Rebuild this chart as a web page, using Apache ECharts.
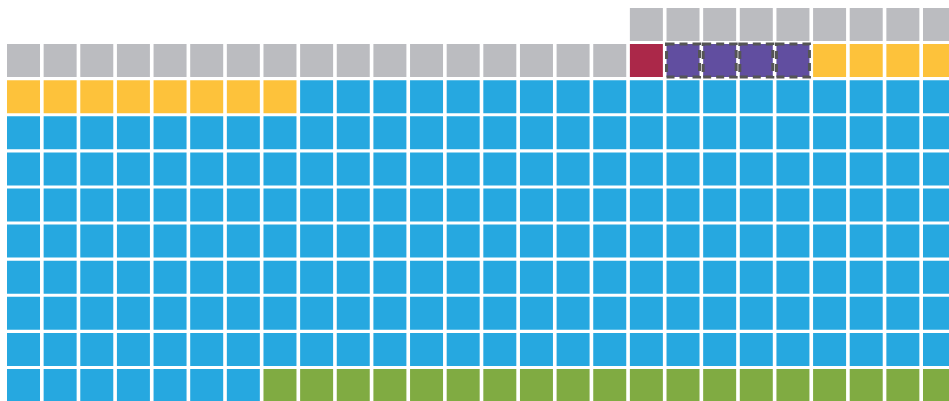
<!DOCTYPE html>
<html>
<head>
<meta charset="utf-8">
<script src="https://cdn.jsdelivr.net/npm/echarts@6/dist/echarts.min.js"></script>
<style>html,body{margin:0;padding:0;background:#fff}#c{width:949px;height:401px}</style>
</head>
<body>
<div id="c"></div>
<script>
// Waffle categories in fill order (from bottom-right, right-to-left, upward)
var categories = ['Green', 'Blue', 'Yellow', 'Purple', 'Red', 'Gray'];
var counts = [19, 207, 12, 4, 1, 26];
var colors = ['#80AB42', '#26A8E0', '#FDC23B', '#614EA0', '#AB2849', '#BBBCC0'];
var dashed = [false, false, false, true, false, false];
var columns = 26;
var rows = 11;

var cells = [];
var idx = 0;
for (var k = 0; k < categories.length; k++) {
  for (var n = 0; n < counts[k]; n++) {
    var col = columns - 1 - (idx % columns);
    var row = rows - 1 - Math.floor(idx / columns);
    cells.push([col, row, k]);
    idx++;
  }
}

var chart = echarts.init(document.getElementById('c'));
chart.setOption({
  animation: false,
  grid: { left: 23.5, right: 9.5, top: 24.5, bottom: 15.5 },
  xAxis: { type: 'value', min: 0, max: columns - 1, show: false },
  yAxis: { type: 'value', min: 0, max: rows - 1, inverse: true, show: false },
  series: [{
    type: 'custom',
    clip: false,
    data: cells,
    renderItem: function (params, api) {
      var c = api.coord([api.value(0), api.value(1)]);
      var w = 33, h = 33;
      var k = api.value(2);
      var style = { fill: colors[k] };
      if (dashed[k]) {
        style.stroke = '#555555';
        style.lineWidth = 3;
        style.lineDash = [8, 5];
      }
      return {
        type: 'rect',
        shape: { x: c[0] - w / 2, y: c[1] - h / 2, width: w, height: h },
        style: style
      };
    }
  }]
});
</script>
</body>
</html>
